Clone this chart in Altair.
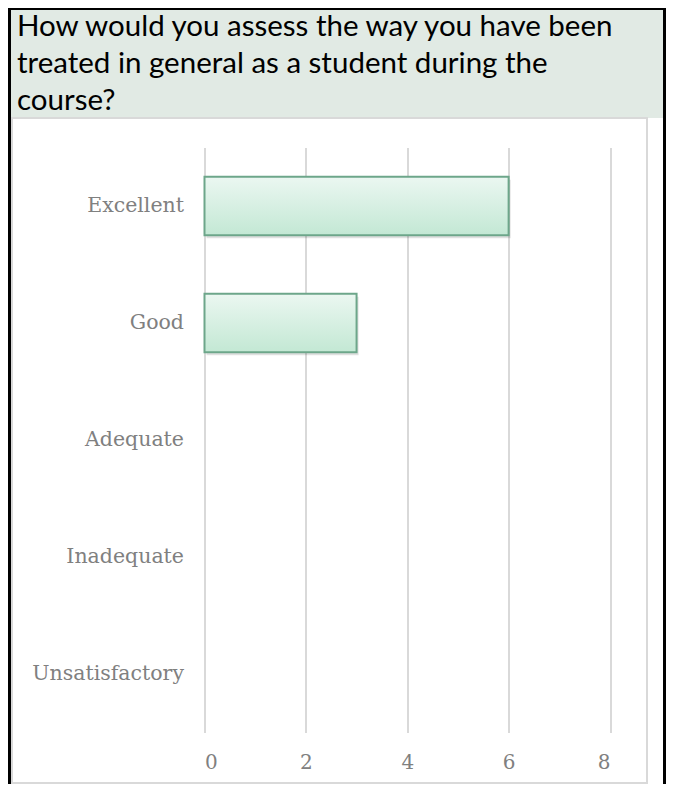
import altair as alt
import pandas as pd

# ---- data ----
categories = ["Excellent", "Good", "Adequate", "Inadequate", "Unsatisfactory"]
counts = [6, 3, 0, 0, 0]
x_ticks = [0, 2, 4, 6, 8]
title_lines = [
    "How would you assess the way you have been",
    "treated in general as a student during the",
    "course?",
]

df = pd.DataFrame({"rating": categories, "count": counts})
one = pd.DataFrame({"k": [0]})

# ---- layout (pixels) ----
PAD_L, PAD_T = 196.5, 139.5
PLOT_W, PLOT_H = 405.5, 585
TOTAL_W, TOTAL_H = 658, 776
PAD_R = TOTAL_W - PAD_L - PLOT_W
PAD_B = TOTAL_H - PAD_T - PLOT_H

LEFT = -PAD_L
TOP = -PAD_T
RIGHT = TOTAL_W - PAD_L
BOTTOM = TOTAL_H - PAD_T

title_bg = alt.Chart(one).mark_rect(color="#e1eae4").encode(
    x=alt.value(LEFT), x2=alt.value(RIGHT),
    y=alt.value(TOP), y2=alt.value(110 - PAD_T),
)

box = alt.Chart(one).mark_rect(
    fill="white", fillOpacity=0, stroke="#d9d9d9", strokeWidth=2
).encode(
    x=alt.value(4 - PAD_L), x2=alt.value(639 - PAD_L),
    y=alt.value(110 - PAD_T), y2=alt.value(BOTTOM - 1),
)

border_left = alt.Chart(one).mark_rect(color="black").encode(
    x=alt.value(LEFT), x2=alt.value(LEFT + 3),
    y=alt.value(TOP), y2=alt.value(BOTTOM),
)
border_top = alt.Chart(one).mark_rect(color="black").encode(
    x=alt.value(LEFT), x2=alt.value(RIGHT),
    y=alt.value(TOP), y2=alt.value(TOP + 2),
)
border_right = alt.Chart(one).mark_rect(color="black").encode(
    x=alt.value(RIGHT - 3), x2=alt.value(RIGHT),
    y=alt.value(TOP), y2=alt.value(BOTTOM),
)

title_text = alt.Chart(one).mark_text(
    align="left", baseline="alphabetic", font="Lato", fontSize=29.5,
    lineHeight=37, color="black",
).encode(
    x=alt.value(9 - PAD_L), y=alt.value(28 - PAD_T),
    text=alt.value(title_lines),
)

y_enc = alt.Y(
    "rating:N", sort=categories,
    scale=alt.Scale(domain=categories, paddingInner=0.5, paddingOuter=0.25),
    axis=alt.Axis(
        title=None, domain=False, ticks=False, grid=False, labelPadding=21,
        labelFont="DejaVu Serif", labelFontSize=20.5, labelColor="#808080",
        labelFontWeight="normal",
    ),
)
x_enc = alt.X(
    "count:Q",
    scale=alt.Scale(domain=[0, 8], nice=False),
    axis=alt.Axis(
        title=None, values=x_ticks, domain=False, ticks=False, tickSize=0,
        grid=True, gridColor="#d9d9d9", gridWidth=2,
        labelFont="DejaVu Serif", labelFontSize=20, labelColor="#808080",
        labelPadding=30, labelBaseline="middle",
    ),
)

shadow = alt.Chart(df).transform_filter("datum.count > 0").mark_bar(
    color="black", opacity=0.12, xOffset=2, yOffset=3
).encode(x=x_enc, y=y_enc)

bars = alt.Chart(df).transform_filter("datum.count > 0").mark_bar(
    color=alt.Gradient(
        gradient="linear",
        stops=[
            alt.GradientStop(color="#ebf7f1", offset=0),
            alt.GradientStop(color="#c3e8d4", offset=1),
        ],
        x1=0, x2=0, y1=0, y2=1,
    ),
    stroke="#6da68a", strokeWidth=2,
).encode(x=x_enc, y=y_enc)

chart = alt.layer(
    title_bg, box, border_left, border_top, border_right, title_text, shadow, bars
).properties(
    width=PLOT_W, height=PLOT_H,
    autosize=alt.AutoSizeParams(type="none"),
    padding={"left": PAD_L, "top": PAD_T, "right": PAD_R, "bottom": PAD_B},
    background="white",
).configure_view(stroke=None)

chart.save("out.html", embed_options={"renderer": "svg", "actions": False})
